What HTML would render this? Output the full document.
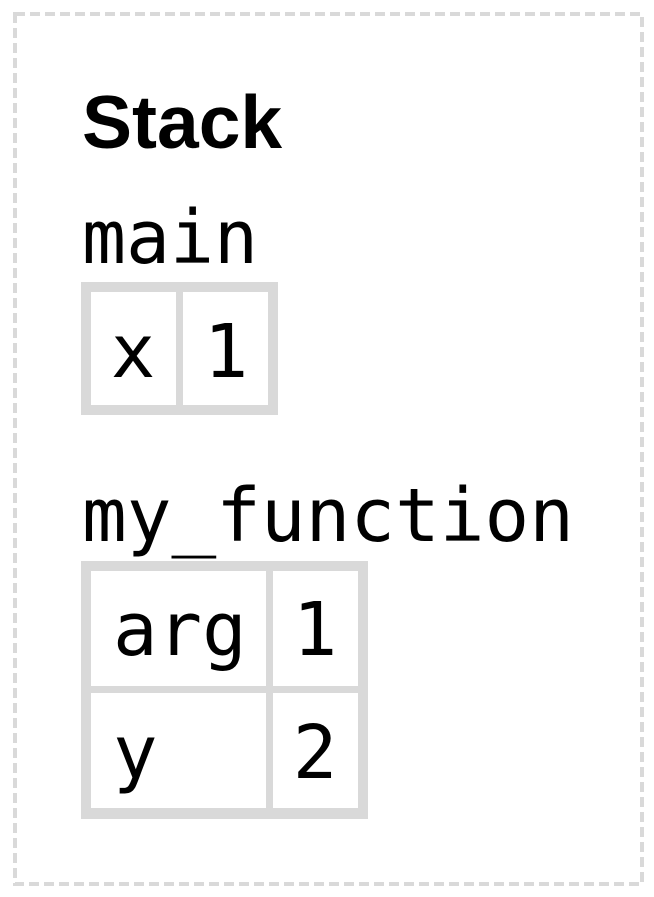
<!DOCTYPE html>
<html><head><meta charset="utf-8"><style>
html,body{margin:0;padding:0;background:#fff;}
svg{display:block;}
.m{font-family:"DejaVu Sans Mono","Liberation Mono",monospace;font-size:74px;fill:#000;}
</style></head><body>
<svg width="654" height="897" viewBox="0 0 654 897" xmlns="http://www.w3.org/2000/svg">
<rect x="15" y="14" width="627" height="870" fill="none" stroke="#d9d9d9" stroke-width="4" stroke-dasharray="10 5"/>
<text x="82" y="148" font-family="Liberation Sans, sans-serif" font-weight="bold" font-size="75">Stack</text>
<text class="m" x="82" y="263" textLength="176" lengthAdjust="spacingAndGlyphs">main</text>
<!-- table 1 -->
<rect x="81" y="282" width="197" height="133" fill="#d9d9d9"/>
<rect x="91" y="292" width="85" height="113" fill="#fff"/>
<rect x="183" y="292" width="85" height="113" fill="#fff"/>
<text class="m" x="133" y="377" text-anchor="middle">x</text>
<text class="m" x="226" y="377" text-anchor="middle">1</text>
<text class="m" x="82" y="541" textLength="492" lengthAdjust="spacingAndGlyphs">my_function</text>
<!-- table 2 -->
<rect x="81" y="561" width="287" height="258" fill="#d9d9d9"/>
<rect x="91" y="571" width="175" height="115" fill="#fff"/>
<rect x="273" y="571" width="85" height="115" fill="#fff"/>
<rect x="91" y="693" width="175" height="115" fill="#fff"/>
<rect x="273" y="693" width="85" height="115" fill="#fff"/>
<text class="m" x="113" y="655">arg</text>
<text class="m" x="315" y="655" text-anchor="middle">1</text>
<text class="m" x="113" y="778">y</text>
<text class="m" x="315" y="778" text-anchor="middle">2</text>
</svg>
</body></html>
